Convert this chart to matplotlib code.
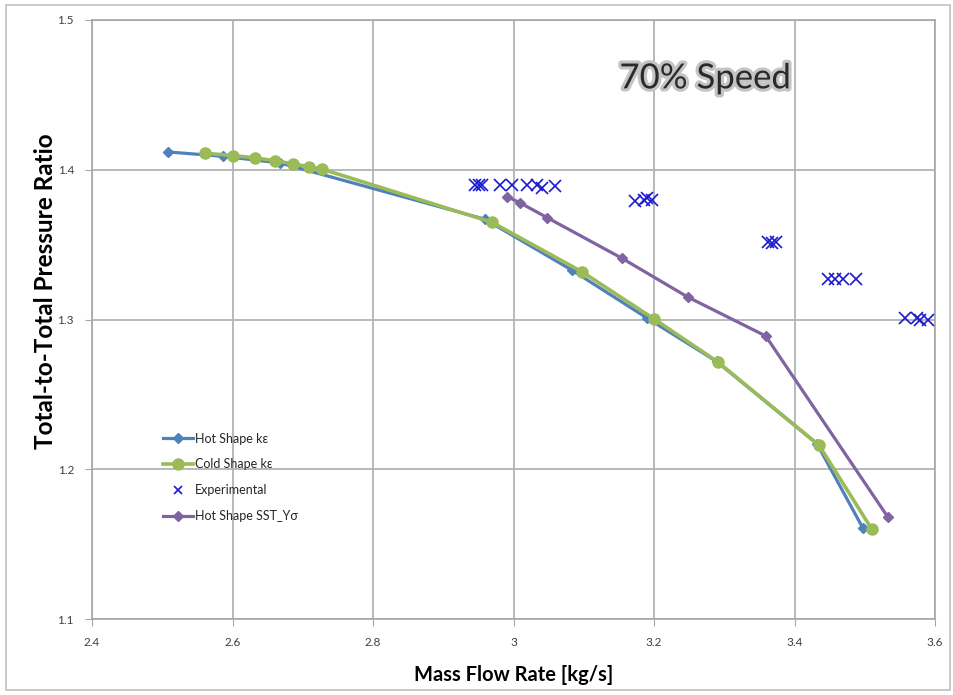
import matplotlib
matplotlib.use("Agg")
import matplotlib.pyplot as plt
import matplotlib.patheffects as pe
from matplotlib.patches import Rectangle

# ---- data ----
hot_ke_x = [2.508, 2.586, 2.668, 2.959, 3.083, 3.190, 3.289, 3.432, 3.497]
hot_ke_y = [1.4119, 1.4090, 1.4045, 1.3670, 1.3330, 1.3010, 1.2720, 1.2170, 1.1610]

cold_ke_x = [2.561, 2.600, 2.632, 2.660, 2.686, 2.709, 2.727, 2.969, 3.097, 3.200, 3.291, 3.435, 3.510]
cold_ke_y = [1.4110, 1.4095, 1.4080, 1.4060, 1.4040, 1.4020, 1.4005, 1.3650, 1.3320, 1.3004, 1.2716, 1.2160, 1.1600]

sst_x = [2.991, 3.009, 3.048, 3.154, 3.248, 3.359, 3.533]
sst_y = [1.3820, 1.3780, 1.3680, 1.3410, 1.3150, 1.2890, 1.1680]

exp_x = [2.945, 2.951, 2.955, 2.981, 2.998, 3.019, 3.034, 3.041, 3.059,
         3.173, 3.186, 3.190, 3.197,
         3.362, 3.368, 3.373,
         3.448, 3.457, 3.469, 3.487,
         3.557, 3.574, 3.579, 3.590]
exp_y = [1.390, 1.390, 1.390, 1.390, 1.390, 1.390, 1.390, 1.388, 1.389,
         1.379, 1.380, 1.381, 1.380,
         1.352, 1.351, 1.352,
         1.327, 1.327, 1.327, 1.327,
         1.301, 1.301, 1.300, 1.300]

x_ticks = [2.4, 2.6, 2.8, 3.0, 3.2, 3.4, 3.6]
x_tick_labels = ["2.4", "2.6", "2.8", "3", "3.2", "3.4", "3.6"]
y_ticks = [1.1, 1.2, 1.3, 1.4, 1.5]
y_tick_labels = ["1.1", "1.2", "1.3", "1.4", "1.5"]

plt.rcParams['font.family'] = ['Lato', 'DejaVu Sans']

fig = plt.figure(figsize=(9.54, 6.95), dpi=100)
ax = fig.add_axes([92/954, 1-619/695, (935-92)/954, (619-20)/695])

c_blue = "#4F81BD"
c_green = "#9BBB59"
c_purple = "#8064A2"
c_exp = "#1A1AD0"

ax.plot(hot_ke_x, hot_ke_y, color=c_blue, lw=2.3, marker="D", ms=5,
        label="Hot Shape kε", zorder=3)
ax.plot(cold_ke_x, cold_ke_y, color=c_green, lw=2.6, marker="o", ms=8,
        label="Cold Shape kε", zorder=4)
ax.plot(exp_x, exp_y, linestyle="none", marker="x", color=c_exp, ms=8, mew=1.2,
        label="Experimental", zorder=5)
ax.plot(sst_x, sst_y, color=c_purple, lw=2.3, marker="D", ms=5.5,
        label="Hot Shape SST_Yσ", zorder=3)

ax.set_xlim(2.4, 3.6)
ax.set_ylim(1.1, 1.5)
ax.set_xticks(x_ticks)
ax.set_xticklabels(x_tick_labels)
ax.set_yticks(y_ticks)
ax.set_yticklabels(y_tick_labels)
ax.grid(True, color="#b3b3b3", lw=1.3)
ax.set_axisbelow(True)
for s in ax.spines.values():
    s.set_color("#a6a6a6")
    s.set_linewidth(1.2)
ax.tick_params(axis="both", colors="#a6a6a6", labelcolor="#404040", labelsize=8.5,
               length=5)
ax.tick_params(axis="x", pad=8)
ax.tick_params(axis="y", pad=8)

ax.set_xlabel("Mass Flow Rate [kg/s]", fontsize=14.5, fontweight="bold", labelpad=12)
ax.set_ylabel("Total-to-Total Pressure Ratio", fontsize=17.5, fontweight="bold")
ax.yaxis.set_label_coords(-0.042, 0.548)

ax.text(3.273, 1.461, "70% Speed", fontsize=25, ha="center", va="center",
        color="#2a2a2a",
        path_effects=[pe.withStroke(linewidth=4.5, foreground="#c4c4c4")])

leg = ax.legend(loc="upper left", bbox_to_anchor=(0.084, 0.311), frameon=False,
                fontsize=9, labelspacing=1.1, handlelength=2.4,
                handletextpad=0.15, borderpad=0, borderaxespad=0)
for t in leg.get_texts():
    t.set_color("#262626")
leg.legend_handles[2].set_markersize(6)

fig.patches.append(Rectangle((6/954, 5/695), 944/954, 685/695, transform=fig.transFigure,
                             fill=False, edgecolor="#c0c0c0", lw=1.2))

fig.savefig("out.png", dpi=100)
